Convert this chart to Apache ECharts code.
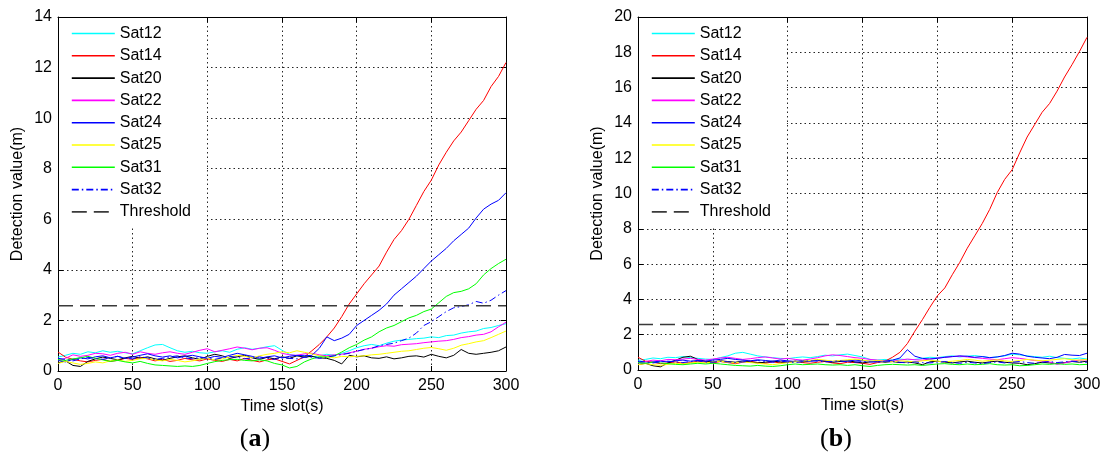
<!DOCTYPE html>
<html>
<head>
<meta charset="utf-8">
<title>Detection value per satellite</title>
<script src="https://cdn.jsdelivr.net/npm/echarts@6/dist/echarts.min.js"></script>
<style>
  html, body { margin: 0; padding: 0; background: #fff; }
  #chart { width: 1106px; height: 454px; }
</style>
</head>
<body>
<div id="chart"></div>
<script>
// Time slots (s), sampled every 5 s
const timeSlots = [0,5,10,15,20,25,30,35,40,45,50,55,60,65,70,75,80,85,90,95,100,
  105,110,115,120,125,130,135,140,145,150,155,160,165,170,175,180,185,190,195,200,
  205,210,215,220,225,230,235,240,245,250,255,260,265,270,275,280,285,290,295,300];

const satNames = ['Sat12','Sat14','Sat20','Sat22','Sat24','Sat25','Sat31','Sat32'];
const thresholdName = 'Threshold';
const thresholdValue = 2.58;

const xTicks = [0, 50, 100, 150, 200, 250, 300];
const yTicksA = [0, 2, 4, 6, 8, 10, 12, 14];
const yTicksB = [0, 2, 4, 6, 8, 10, 12, 14, 16, 18, 20];

// Panel (a): detection values (m)
const a_sat12 = [.55,.62,.7,.66,.76,.72,.8,.74,.78,.72,.68,.8,.92,1.03,1.05,.92,.8,.74,.78,.72,.7,
  .76,.8,.74,.86,.92,.86,.9,.96,1.0,.82,.66,.6,.62,.56,.6,.66,.62,.7,.8,.92,
  1.0,1.05,1.0,1.1,1.18,1.22,1.25,1.28,1.3,1.35,1.32,1.4,1.42,1.5,1.55,1.58,1.68,1.72,1.8,1.87];
const a_sat14 = [.75,.55,.46,.4,.36,.42,.46,.38,.42,.5,.46,.54,.48,.4,.46,.38,.42,.5,.44,.4,.48,
  .42,.38,.46,.4,.5,.42,.36,.44,.48,.38,.28,.42,.56,.8,1.05,1.35,1.7,2.15,2.65,3.05,
  3.45,3.8,4.15,4.7,5.2,5.55,6.0,6.55,7.1,7.55,8.15,8.65,9.1,9.45,9.9,10.35,10.7,11.25,11.65,12.2];
const a_sat20 = [.32,.4,.22,.18,.38,.48,.55,.5,.44,.52,.58,.5,.56,.48,.42,.5,.56,.6,.52,.46,.58,
  .66,.6,.5,.56,.62,.52,.46,.54,.48,.56,.5,.6,.55,.58,.52,.5,.42,.28,.62,.56,
  .6,.52,.5,.56,.48,.52,.58,.6,.55,.66,.58,.52,.62,.85,.7,.66,.7,.74,.8,.95];
const a_sat22 = [.4,.5,.64,.58,.62,.7,.68,.62,.7,.74,.66,.76,.7,.66,.72,.76,.7,.66,.74,.82,.88,
  .76,.82,.88,.95,.9,.84,.9,.92,.82,.7,.64,.62,.68,.7,.64,.6,.64,.66,.72,.78,
  .86,.9,.96,1.0,.98,1.04,1.06,1.08,1.12,1.15,1.18,1.2,1.25,1.32,1.36,1.42,1.45,1.55,1.75,1.93];
const a_sat24 = [.42,.36,.46,.52,.48,.56,.6,.52,.58,.5,.55,.62,.68,.6,.55,.6,.52,.58,.62,.56,.5,
  .58,.54,.62,.7,.64,.58,.5,.56,.6,.52,.58,.62,.6,.62,.9,1.35,1.2,1.3,1.45,1.8,
  2.0,2.2,2.4,2.65,3.0,3.25,3.5,3.75,4.05,4.35,4.6,4.85,5.15,5.4,5.65,6.05,6.4,6.6,6.75,7.05];
const a_sat25 = [.3,.38,.32,.26,.3,.36,.32,.4,.44,.38,.42,.48,.5,.44,.4,.46,.42,.36,.4,.46,.5,
  .44,.48,.56,.62,.58,.52,.6,.66,.7,.76,.72,.8,.74,.68,.6,.56,.52,.58,.56,.58,
  .6,.64,.66,.7,.74,.78,.8,.85,.9,.93,.88,.82,.9,1.02,1.08,1.15,1.2,1.32,1.45,1.58];
const a_sat31 = [.45,.42,.48,.52,.58,.5,.44,.38,.42,.36,.32,.38,.3,.24,.22,.2,.18,.2,.18,.22,.3,
  .37,.42,.45,.46,.42,.4,.44,.4,.3,.24,.12,.18,.36,.48,.56,.55,.6,.75,.92,1.05,
  1.22,1.35,1.55,1.7,1.8,1.95,2.1,2.2,2.35,2.45,2.7,2.95,3.1,3.15,3.25,3.45,3.8,4.05,4.25,4.42];
const a_sat32 = [.5,.46,.4,.48,.54,.5,.46,.52,.58,.5,.48,.56,.52,.46,.5,.56,.6,.52,.48,.54,.5,
  .46,.52,.58,.54,.48,.52,.56,.5,.46,.52,.5,.48,.54,.55,.5,.55,.6,.65,.7,.78,
  .85,.9,1.0,1.05,1.1,1.2,1.3,1.5,1.8,1.95,2.15,2.35,2.5,2.55,2.62,2.75,2.68,2.8,3.0,3.18];

// Panel (b): detection values (m)
const b_sat12 = [.55,.6,.68,.64,.72,.7,.76,.7,.66,.62,.6,.7,.8,.95,1.0,.9,.8,.74,.7,.66,.64,
  .7,.74,.7,.76,.84,.8,.86,.9,.82,.74,.6,.56,.6,.55,.62,.58,.6,.66,.72,.7,
  .76,.8,.74,.78,.82,.76,.7,.74,.8,.9,.86,.8,.76,.72,.78,.7,.66,.62,.68,.62];
const b_sat14 = [.72,.5,.44,.36,.4,.46,.38,.42,.5,.44,.4,.48,.42,.36,.44,.5,.42,.38,.46,.4,.44,
  .5,.42,.38,.44,.48,.4,.36,.44,.42,.38,.32,.42,.5,.72,1.0,1.5,2.2,2.85,3.55,4.2,
  4.65,5.4,6.1,6.9,7.6,8.3,9.1,10.05,10.8,11.35,12.3,13.2,13.9,14.6,15.1,15.8,16.6,17.3,18.05,18.85];
const b_sat20 = [.3,.38,.24,.18,.4,.55,.72,.78,.6,.5,.46,.52,.48,.44,.5,.46,.4,.44,.5,.46,.42,
  .5,.46,.52,.56,.5,.44,.48,.52,.46,.4,.46,.5,.44,.48,.42,.46,.4,.3,.46,.5,
  .44,.4,.46,.5,.44,.4,.46,.5,.44,.4,.38,.3,.36,.44,.4,.36,.42,.48,.44,.5];
const b_sat22 = [.4,.48,.56,.52,.6,.58,.62,.66,.6,.56,.62,.68,.72,.66,.6,.64,.7,.74,.68,.62,.66,
  .6,.56,.62,.7,.8,.86,.82,.76,.7,.66,.6,.56,.52,.5,.56,.62,.58,.56,.62,.68,
  .72,.76,.78,.74,.7,.66,.62,.58,.64,.7,.66,.6,.54,.5,.46,.32,.4,.5,.56,.58];
const b_sat24 = [.42,.38,.46,.5,.46,.52,.56,.5,.54,.5,.56,.6,.66,.6,.56,.52,.58,.54,.5,.56,.52,
  .48,.54,.5,.56,.52,.48,.54,.5,.56,.52,.5,.46,.5,.56,.68,1.15,.78,.66,.62,.66,
  .72,.76,.8,.78,.72,.76,.7,.74,.82,.95,.9,.78,.72,.68,.64,.72,.88,.84,.82,.95];
const b_sat25 = [.3,.36,.3,.26,.32,.38,.34,.4,.44,.4,.46,.5,.44,.4,.46,.42,.38,.34,.3,.36,.42,
  .46,.5,.54,.6,.56,.5,.54,.58,.62,.56,.5,.54,.5,.46,.52,.5,.46,.52,.56,.5,
  .46,.5,.54,.6,.56,.5,.54,.58,.52,.48,.54,.6,.56,.52,.56,.6,.64,.58,.56,.6];
const b_sat31 = [.42,.38,.44,.4,.36,.32,.3,.34,.38,.34,.38,.34,.3,.26,.24,.22,.26,.22,.2,.24,.3,
  .34,.3,.32,.34,.3,.28,.3,.26,.3,.24,.2,.26,.3,.32,.3,.28,.3,.26,.3,.34,
  .36,.32,.3,.34,.3,.32,.36,.3,.28,.3,.24,.26,.3,.34,.32,.36,.32,.34,.3,.32];
const b_sat32 = [.5,.46,.4,.46,.5,.46,.42,.48,.52,.46,.44,.5,.46,.42,.46,.5,.54,.48,.44,.5,.46,
  .42,.48,.52,.5,.46,.48,.52,.46,.44,.48,.46,.44,.5,.48,.44,.4,.46,.42,.4,.44,
  .48,.42,.38,.44,.4,.36,.42,.46,.4,.44,.48,.42,.38,.44,.48,.42,.46,.5,.46,.44];

const panelA = [a_sat12, a_sat14, a_sat20, a_sat22, a_sat24, a_sat25, a_sat31, a_sat32];
const panelB = [b_sat12, b_sat14, b_sat20, b_sat22, b_sat24, b_sat25, b_sat31, b_sat32];

// Line styles, one per satellite (plot order)
const satStyles = [
  { color: '#00ffff', type: 'solid' },
  { color: '#ff0000', type: 'solid' },
  { color: '#000000', type: 'solid' },
  { color: '#ff00ff', type: 'solid' },
  { color: '#0000ff', type: 'solid' },
  { color: '#ffff00', type: 'solid' },
  { color: '#00ff00', type: 'solid' },
  { color: '#0000ff', type: [7, 3, 1.5, 3] }
];
const thresholdStyle = { color: '#3a3a3a', type: [15, 7], width: 1.4 };

const FONT = '"Liberation Sans", Arial, sans-serif';
const SERIF = '"Liberation Serif", "Times New Roman", serif';

const grids = [
  { left: 58, top: 17, width: 448, height: 354 },
  { left: 638, top: 17, width: 449, height: 353 }
];

function pairs(values) {
  return values.map((v, i) => [timeSlots[i], v]);
}

function boxAxisX(gridIndex, position, withLabels) {
  return {
    type: 'value', gridIndex, position, min: xTicks[0], max: xTicks[xTicks.length - 1],
    interval: xTicks[1] - xTicks[0],
    name: withLabels ? 'Time slot(s)' : '', nameLocation: 'middle', nameGap: 26,
    nameTextStyle: { fontFamily: FONT, fontSize: 16, color: '#000' },
    axisLine: { show: true, onZero: false, lineStyle: { color: '#000', width: 1 } },
    axisTick: { show: true, inside: true, length: 5, lineStyle: { color: '#000' } },
    axisLabel: { show: withLabels, margin: 7, fontFamily: FONT, fontSize: 16, color: '#000' },
    splitLine: { show: withLabels, lineStyle: { color: '#000', type: [1.5, 3], width: 1, opacity: 0.85 } }
  };
}

function boxAxisY(gridIndex, position, ticks, withLabels) {
  return {
    type: 'value', gridIndex, position, min: ticks[0], max: ticks[ticks.length - 1],
    interval: ticks[1] - ticks[0],
    name: withLabels ? 'Detection value(m)' : '', nameLocation: 'middle', nameGap: 32,
    nameTextStyle: { fontFamily: FONT, fontSize: 16, color: '#000' },
    axisLine: { show: true, onZero: false, lineStyle: { color: '#000', width: 1 } },
    axisTick: { show: true, inside: true, length: 5, lineStyle: { color: '#000' } },
    axisLabel: { show: withLabels, margin: 6, fontFamily: FONT, fontSize: 16, color: '#000' },
    splitLine: { show: withLabels, lineStyle: { color: '#000', type: [1.5, 3], width: 1, opacity: 0.85 } }
  };
}

function panelSeries(valuesList, axisIndex) {
  const out = valuesList.map((vals, k) => ({
    name: satNames[k], type: 'line', xAxisIndex: axisIndex, yAxisIndex: axisIndex,
    data: pairs(vals), symbol: 'none', silent: true,
    lineStyle: { color: satStyles[k].color, type: satStyles[k].type, width: 1 },
    itemStyle: { color: satStyles[k].color }
  }));
  out.push({
    name: thresholdName, type: 'line', xAxisIndex: axisIndex, yAxisIndex: axisIndex,
    data: [[xTicks[0], thresholdValue], [xTicks[xTicks.length - 1], thresholdValue]],
    symbol: 'none', silent: true,
    lineStyle: thresholdStyle, itemStyle: { color: thresholdStyle.color }
  });
  return out;
}

// Legend keys are plain line samples: the marker is hidden, the line keeps the series style
function panelLegend(left) {
  return {
    left, top: 18, orient: 'vertical', itemWidth: 43, itemHeight: 14, itemGap: 6.3,
    padding: [7.5, 16, 6, 12], backgroundColor: '#ffffff', borderWidth: 0,
    selectedMode: false,
    textStyle: { fontFamily: FONT, fontSize: 16, color: '#000' },
    itemStyle: { opacity: 0 },
    lineStyle: { width: 1.6 },
    data: satNames.concat([thresholdName])
  };
}

function panelTag(x, letter) {
  return {
    type: 'text', x, y: 439, silent: true,
    style: {
      text: '(' + '{b|' + letter + '})',
      font: '26px ' + SERIF, fill: '#000', align: 'center', verticalAlign: 'middle',
      rich: { b: { fontFamily: SERIF, fontSize: 26, fontWeight: 'bold', fill: '#000' } }
    }
  };
}

const chart = echarts.init(document.getElementById('chart'), null, { renderer: 'canvas' });
chart.setOption({
  animation: false,
  backgroundColor: '#ffffff',
  grid: grids,
  xAxis: [
    boxAxisX(0, 'bottom', true), boxAxisX(0, 'top', false),
    boxAxisX(1, 'bottom', true), boxAxisX(1, 'top', false)
  ],
  yAxis: [
    boxAxisY(0, 'left', yTicksA, true), boxAxisY(0, 'right', yTicksA, false),
    boxAxisY(1, 'left', yTicksB, true), boxAxisY(1, 'right', yTicksB, false)
  ],
  legend: [panelLegend(59), panelLegend(639)],
  series: panelSeries(panelA, 0).concat(panelSeries(panelB, 2)),
  graphic: [panelTag(255, 'a'), panelTag(836, 'b')]
});
</script>
</body>
</html>
